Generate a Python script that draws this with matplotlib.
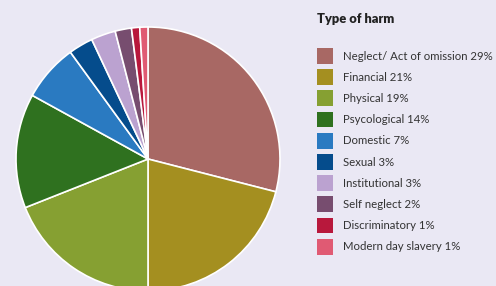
import matplotlib.pyplot as plt

harm_types = ['Neglect/ Act of omission', 'Financial', 'Physical', 'Psycological',
              'Domestic', 'Sexual', 'Institutional', 'Self neglect',
              'Discriminatory', 'Modern day slavery']
percentages = [29, 21, 19, 14, 7, 3, 3, 2, 1, 1]
colours = ['#A86864', '#A48F20', '#86A032', '#2F711F', '#2A7AC1',
           '#054C8C', '#BBA2D0', '#774D6F', '#B8183C', '#E05A73']

bg = '#EAE8F4'
fig = plt.figure(figsize=(4.96, 2.86), dpi=100, facecolor=bg)
ax = fig.add_axes([0, 0, 1, 1])
ax.set_facecolor(bg)

# pie in pixel-like units so centre/radius are easy to place
wedges, _ = ax.pie(percentages, colors=colours, startangle=90, counterclock=False,
                   radius=132, center=(0, 0),
                   wedgeprops=dict(edgecolor='white', linewidth=1.2))
ax.set_xlim(-148, 496 - 148)
ax.set_ylim(-(286 - 159), 159)
ax.set_aspect('equal')
ax.axis('off')

labels = [f'{h} {p}%' for h, p in zip(harm_types, percentages)]
fig.text(317 / 496, 1 - 19 / 286, 'Type of harm', fontsize=9.3, fontweight='heavy',
         family='Lato', color='#222222', va='center', ha='left')
leg = ax.legend(wedges, labels, loc='upper left',
                bbox_to_anchor=(317 / 496, 1 - 48 / 286), bbox_transform=fig.transFigure,
                frameon=False, prop=dict(family='Lato', size=8.2),
                handlelength=1.4, handleheight=1.75, handletextpad=0.85,
                labelspacing=0.48, borderpad=0, borderaxespad=0)
for t in leg.get_texts():
    t.set_color('#333333')
for h in leg.legend_handles:
    h.set_edgecolor('none')

fig.savefig('out.png', dpi=100, facecolor=bg)
